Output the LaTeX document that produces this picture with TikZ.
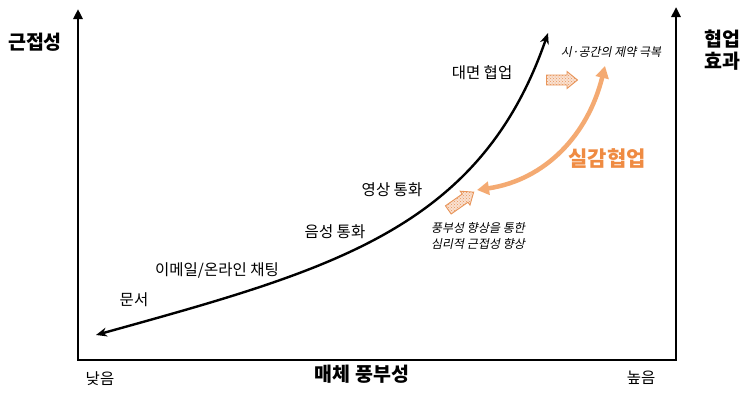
\documentclass[tikz,border=0pt]{standalone}
\usepackage{fontspec}
\setmainfont{Noto Sans CJK KR}
\newfontfamily\koslant{Noto Sans CJK KR}[FakeSlant=0.2]
\usetikzlibrary{arrows.meta,patterns}

\definecolor{lineorange}{HTML}{F4AA72}
\definecolor{textorange}{HTML}{EF8B42}
\definecolor{dotorange}{HTML}{E8955A}

\begin{document}
\begin{tikzpicture}[x=1pt,y=-1pt,
    axis/.style={line width=2.6pt, line join=miter},
    label/.style={font=\fontsize{15.5}{18}\selectfont, inner sep=0pt},
    title/.style={font=\fontsize{19.5}{22}\selectfont\bfseries, inner sep=0pt, align=center},
    note/.style={font=\fontsize{12}{15.5}\selectfont\koslant, inner sep=0pt, align=center},
    hatcharrow/.style={draw=dotorange, line width=0.9pt, line join=miter, fill=dotorange!28,
      postaction={pattern=crosshatch dots, pattern color=dotorange}}]
  \useasboundingbox (0,0) rectangle (754,392);

  % axes
  \coordinate (ytop) at (78,9);
  \coordinate (origin) at (78,360);
  \coordinate (xend) at (676,360);
  \coordinate (ztop) at (676,7);
  \draw[axis, {Triangle[width=9pt,length=10pt]}-{Triangle[width=9pt,length=10pt]}] (ytop) -- (origin) -- (xend) -- (ztop);

  % axis titles
  \node[title] (proximity) at (35,42) {근접성};
  \node[title] (effect) at (722,50) {협업\\효과};
  \node[title] (richness) at (362,374) {매체 풍부성};
  \node[label] (low) at (100,379) {낮음};
  \node[label] (high) at (641,378) {높음};

  % media richness curve
  \coordinate (cstart) at (96,335);
  \coordinate (cend) at (548,33);
  \draw[line width=2.4pt, {Stealth[width=9pt,length=11pt]}-{Stealth[width=9pt,length=11pt]}]
    (cstart) .. controls (330,270) and (480,230) .. (cend);

  % media labels
  \node[label] (doc) at (134,300) {문서};
  \node[label] (chat) at (217,270) {이메일/온라인 채팅};
  \node[label] (voice) at (335,232) {음성 통화};
  \node[label] (video) at (392,190) {영상 통화};
  \node[label] (f2f) at (482,73) {대면 협업};

  % realistic collaboration arrow
  \coordinate (rlow) at (477,190);
  \coordinate (rhigh) at (605,66);
  \draw[lineorange, line width=4.5pt, {Triangle[width=13pt,length=12pt]}-{Triangle[width=13pt,length=12pt]}]
    (rlow) .. controls (545,180) and (588,135) .. (rhigh);
  \node[font=\fontsize{21}{24}\selectfont\bfseries, text=textorange, inner sep=0pt] (realistic) at (607,159) {실감협업};

  % hatched arrows and notes
  \draw[hatcharrow, shift={(562,80)}]
    (-15.5,-5) -- (5,-5) -- (5,-8.5) -- (15.5,0) -- (5,8.5) -- (5,5) -- (-15.5,5) -- cycle;
  \node[note] (spacetime) at (611,52) {시·공간의 제약 극복};
  \draw[hatcharrow, shift={(461,201)}, rotate=35]
    (-15.5,-5) -- (5,-5) -- (5,-8.5) -- (15.5,0) -- (5,8.5) -- (5,5) -- (-15.5,5) -- cycle;
  \node[note] (psych) at (478,236) {풍부성 향상을 통한\\심리적 근접성 향상};
\end{tikzpicture}
\end{document}
